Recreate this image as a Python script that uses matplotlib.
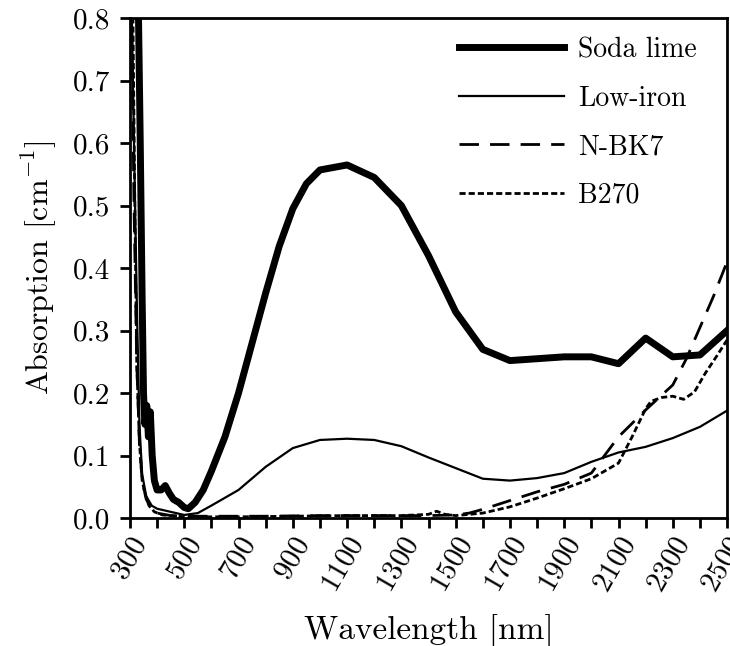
import matplotlib
matplotlib.use("Agg")
import matplotlib.pyplot as plt
from matplotlib.ticker import MultipleLocator

# absorption spectra
soda_wl = [330, 338, 345, 350, 355, 362, 368, 375, 382, 390, 400, 415, 430, 445, 460, 480, 500, 515,
           540, 570, 600, 650, 700, 750, 800, 850, 900, 950, 1000, 1100, 1200, 1300, 1400, 1500, 1600,
           1700, 1800, 1900, 2000, 2100, 2200, 2300, 2400, 2500]
soda_abs = [0.85, 0.6, 0.35, 0.2, 0.15, 0.18, 0.13, 0.17, 0.1, 0.06, 0.045, 0.045, 0.052, 0.04, 0.03,
            0.025, 0.017, 0.015, 0.025, 0.045, 0.075, 0.13, 0.2, 0.28, 0.36, 0.435, 0.495, 0.535, 0.557,
            0.565, 0.545, 0.5, 0.42, 0.33, 0.27, 0.252, 0.255, 0.258, 0.258, 0.247, 0.288, 0.258, 0.261, 0.3]

lowfe_wl = [305, 315, 325, 335, 345, 360, 380, 400, 450, 500, 550, 600, 700, 800, 900, 1000, 1100, 1200,
            1300, 1400, 1500, 1600, 1700, 1800, 1900, 2000, 2100, 2200, 2300, 2400, 2500]
lowfe_abs = [0.85, 0.6, 0.35, 0.15, 0.07, 0.035, 0.02, 0.015, 0.01, 0.005, 0.008, 0.02, 0.045, 0.082,
             0.112, 0.125, 0.127, 0.125, 0.115, 0.097, 0.08, 0.063, 0.06, 0.064, 0.072, 0.09, 0.105,
             0.114, 0.128, 0.146, 0.172]

bk7_wl = [305, 315, 325, 335, 345, 360, 380, 400, 450, 500, 600, 800, 1000, 1200, 1400, 1500, 1550, 1600,
          1700, 1800, 1900, 2000, 2100, 2200, 2300, 2350, 2400, 2450, 2500]
bk7_abs = [0.85, 0.5, 0.25, 0.12, 0.06, 0.03, 0.015, 0.008, 0.004, 0.003, 0.003, 0.003, 0.004, 0.004,
           0.004, 0.005, 0.008, 0.014, 0.028, 0.042, 0.054, 0.072, 0.13, 0.173, 0.213, 0.255, 0.305,
           0.355, 0.41]

b270_wl = [310, 318, 325, 335, 345, 355, 370, 390, 420, 500, 700, 900, 1100, 1300, 1400, 1430, 1460, 1500,
           1600, 1700, 1800, 1900, 2000, 2100, 2150, 2200, 2220, 2260, 2300, 2340, 2380, 2420, 2460, 2500]
b270_abs = [0.85, 0.5, 0.25, 0.12, 0.06, 0.04, 0.02, 0.01, 0.005, 0.002, 0.002, 0.003, 0.004, 0.004,
            0.006, 0.011, 0.006, 0.004, 0.008, 0.018, 0.032, 0.047, 0.063, 0.088, 0.13, 0.175, 0.187,
            0.193, 0.195, 0.19, 0.202, 0.232, 0.258, 0.285]

plt.rcParams["font.family"] = ["cmr10", "DejaVu Serif"]
plt.rcParams["mathtext.fontset"] = "cm"
plt.rcParams["axes.formatter.use_mathtext"] = True

fig = plt.figure(figsize=(7.3, 6.46), dpi=100)
ax = fig.add_axes([0.178, 0.198, 0.818, 0.774])

ax.plot(soda_wl, soda_abs, color="black", lw=5, label="Soda lime")
ax.plot(lowfe_wl, lowfe_abs, color="black", lw=1.6, label="Low-iron")
ax.plot(bk7_wl, bk7_abs, color="black", lw=2, dashes=(7, 4), label="N-BK7")
ax.plot(b270_wl, b270_abs, color="black", lw=2, dashes=(2.2, 1.1), label="B270")

ax.set_xlim(300, 2500)
ax.set_ylim(0, 0.8)
ax.set_xticks(list(range(300, 2501, 200)))
ax.xaxis.set_minor_locator(MultipleLocator(100))
ax.yaxis.set_major_locator(MultipleLocator(0.1))
ax.yaxis.set_major_formatter(plt.FormatStrFormatter("%.1f"))

for s in ax.spines.values():
    s.set_linewidth(2)
ax.tick_params(which="both", direction="out", length=7, width=2, labelsize=21)
ax.tick_params(axis="y", pad=7)
plt.setp(ax.get_xticklabels(), rotation=60, ha="right", rotation_mode="anchor")

ax.set_xlabel("Wavelength [nm]", fontsize=24, labelpad=12)
ax.set_ylabel(r"Absorption [cm$^{\mathregular{-1}}$]", fontsize=23, labelpad=10)

ax.legend(loc="upper right", bbox_to_anchor=(0.968, 0.985), frameon=False, fontsize=20,
          handlelength=3.8, labelspacing=0.8, borderaxespad=0.0, handletextpad=0.5)

fig.savefig("out.png", dpi=100)
